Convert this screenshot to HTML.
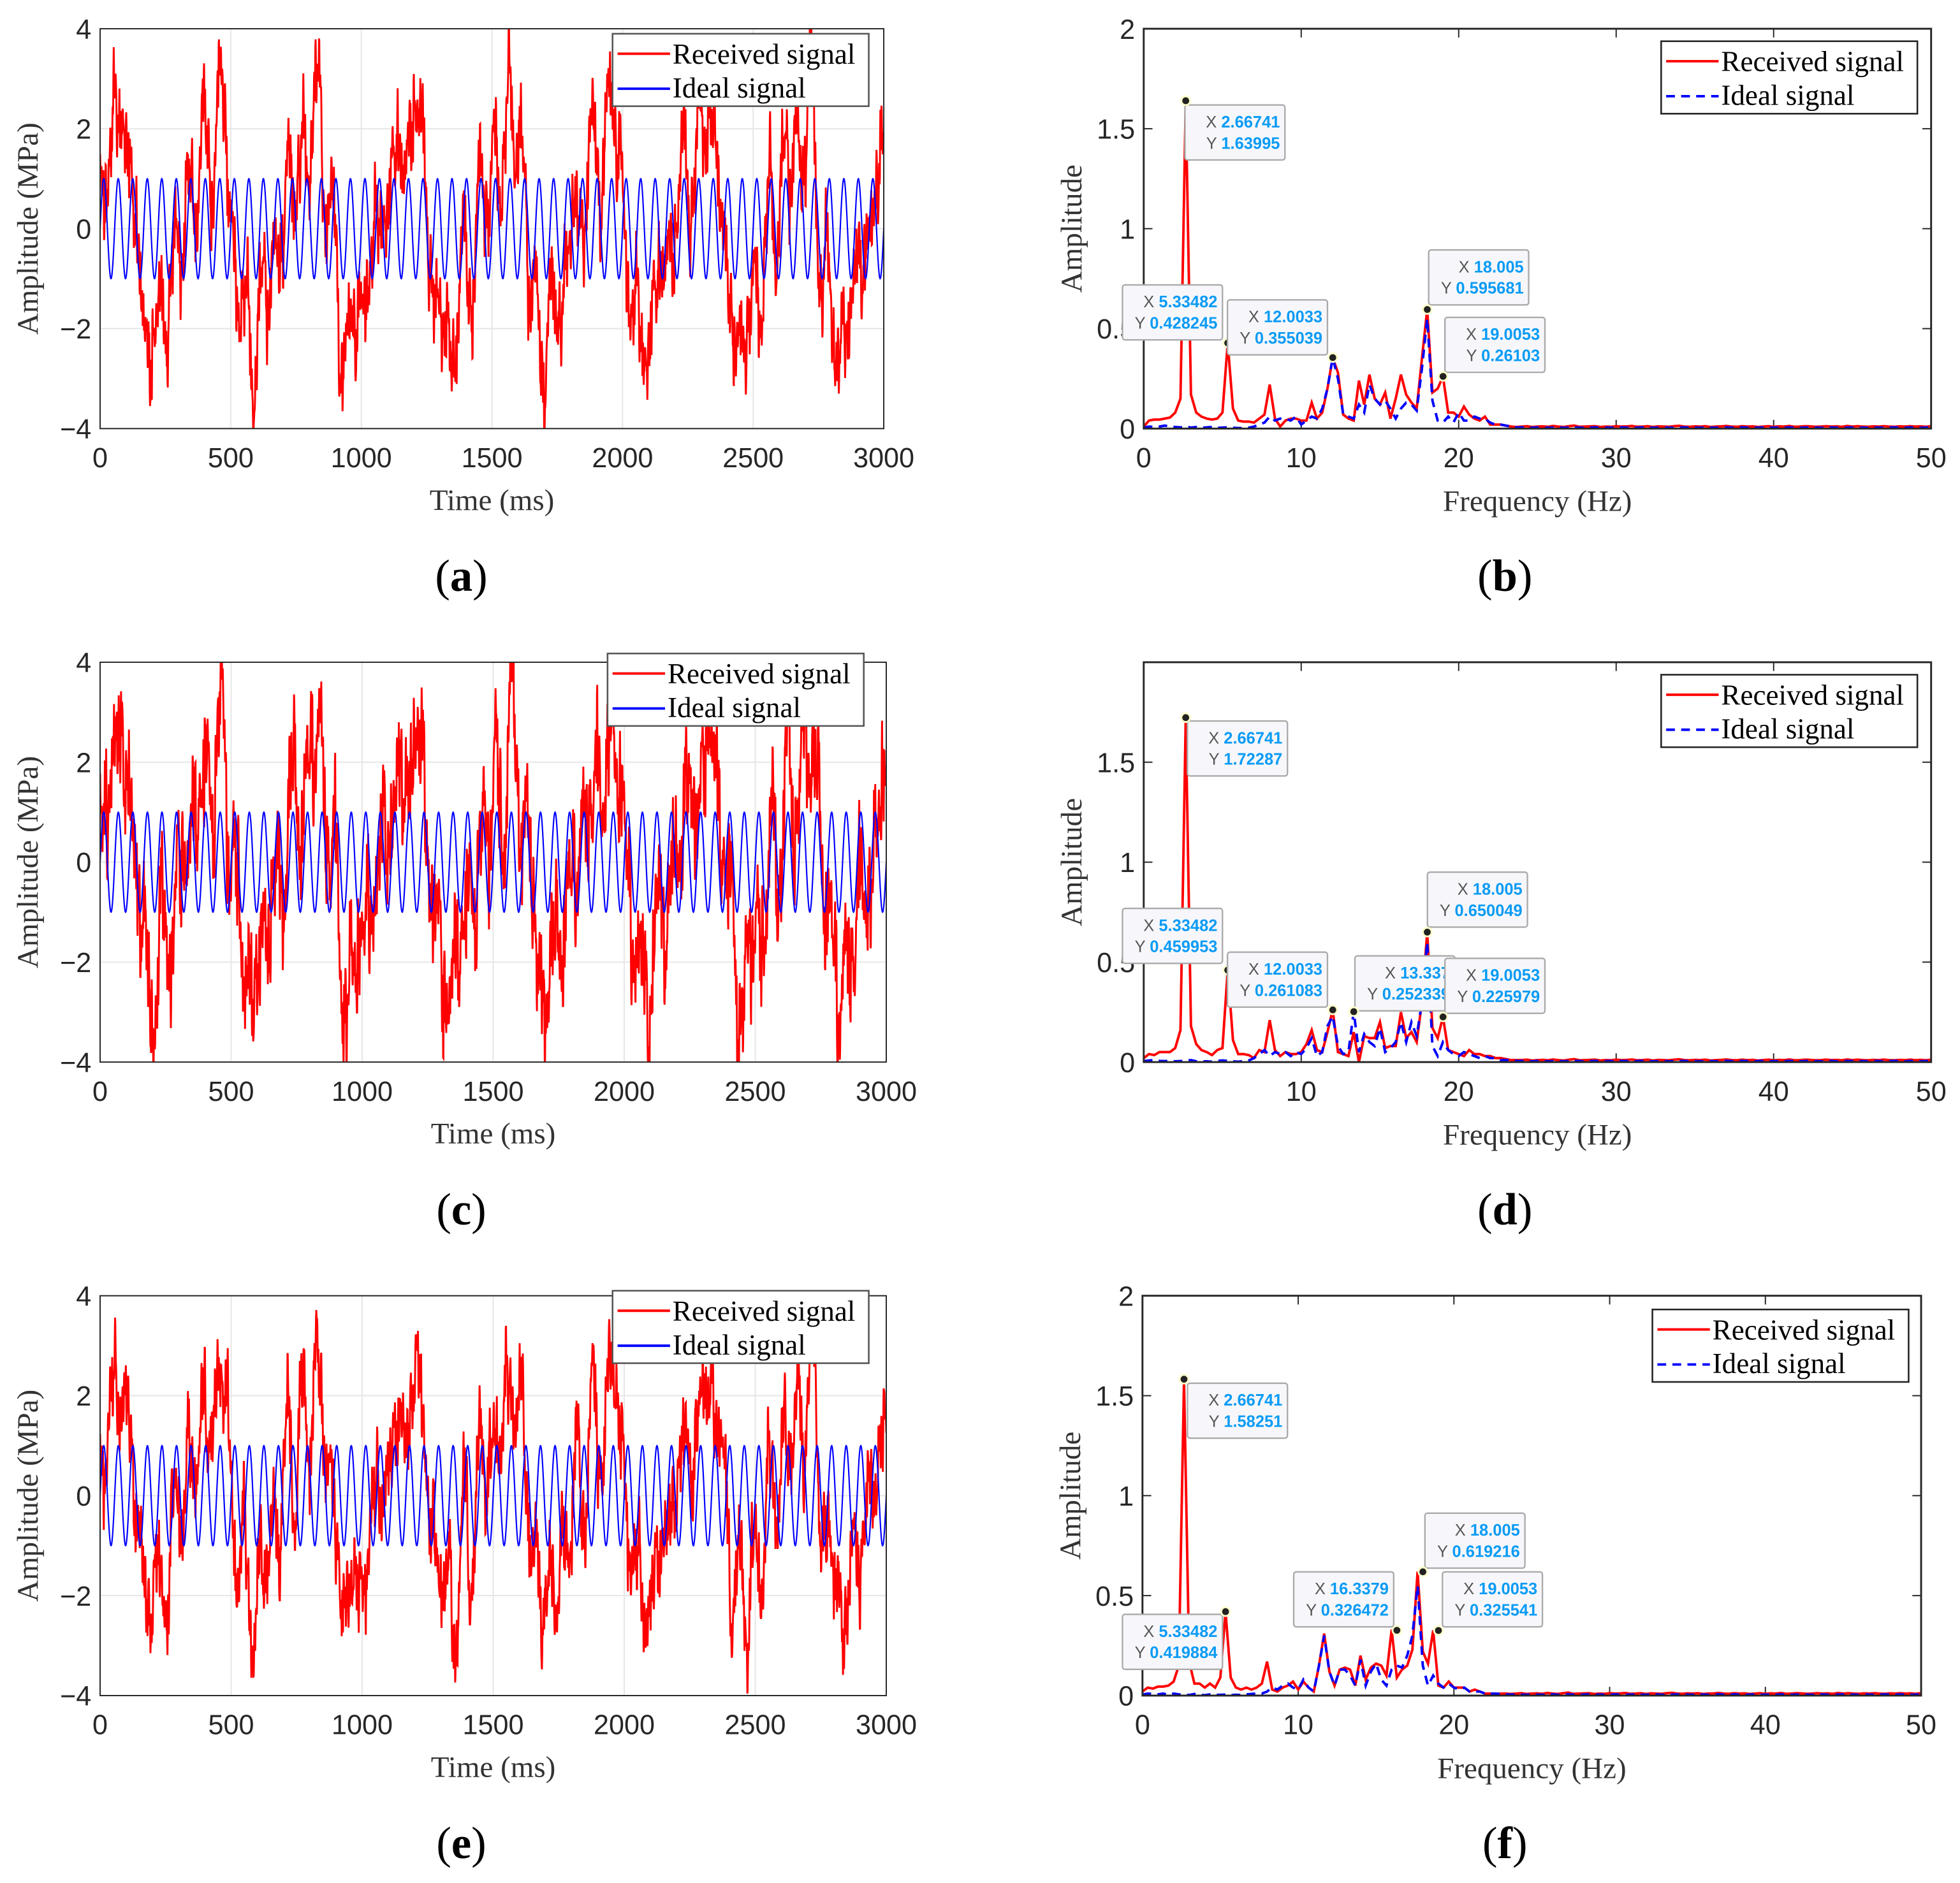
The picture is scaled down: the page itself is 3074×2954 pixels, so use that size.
<!DOCTYPE html>
<html><head><meta charset="utf-8"><style>
html,body{margin:0;padding:0;background:#fff}
svg{display:block}
.tk{font-family:"Liberation Sans",sans-serif;font-size:22px;fill:#262626}
.ax{font-family:"Liberation Serif",serif;font-size:24px;fill:#333}
.lg{font-family:"Liberation Serif",serif;font-size:23px;fill:#000}
.pl{font-family:"Liberation Serif",serif;font-size:36px;fill:#000}
.dt{font-family:"Liberation Sans",sans-serif;font-size:13px}
</style></head><body>
<svg id="fig" width="3074" height="2954" viewBox="0 0 1568 1507" xmlns="http://www.w3.org/2000/svg"></svg>
<script>
// ---- time-domain component data (frequency Hz, amplitude, phase rad) ----
const tFreq=[2.667,5.333,8,10.67,12,13.33,14.33,16.33,18,19,21,33,47,61,79,103,127,149,173,197,229,263];
const ampA=[2.0,0.6,0.25,0.15,0.4,0.15,0.3,0.3,0.6,0.3,0.12,0.22,0.2,0.2,0.19,0.18,0.17,0.16,0.15,0.15,0.14,0.14];
const ampC=[2.1,0.62,0.25,0.18,0.3,0.28,0.3,0.32,0.65,0.25,0.15,0.28,0.27,0.26,0.25,0.24,0.23,0.22,0.2,0.2,0.19,0.19];
const ampE=[1.9,0.55,0.22,0.15,0.35,0.15,0.3,0.35,0.62,0.33,0.12,0.22,0.2,0.2,0.19,0.18,0.17,0.16,0.15,0.15,0.14,0.14];
const phA=[-0.67,3.14,1.2,0.4,2.1,-1.3,0.8,2.6,-0.5,1.9,0.3,1.1,2.7,-2.0,0.9,-1.1,2.2,0.6,1.4,-2.6,0.2,2.9];
const phC=[-0.67,3.14,0.9,1.4,1.6,-0.3,2.8,1.6,-1.5,0.9,1.3,2.1,0.7,-1.0,1.9,-2.1,0.2,1.6,-0.4,2.3,-1.7,1.0];
const phE=[-0.67,3.14,1.7,0.1,2.6,-1.8,0.3,2.1,0.5,2.9,-0.7,0.1,1.7,-3.0,2.9,-0.1,1.2,2.6,0.8,-1.2,2.4,-0.6];
const idealFreq=18, idealAmp=1;
const timeTicks=[0,500,1000,1500,2000,2500,3000];
const ampTicks=[-4,-2,0,2,4];
// ---- spectrum data (bins at 1/3 Hz, 0..23.67 Hz) ----
const specRedB=[0.01,0.04,0.045,0.045,0.05,0.055,0.08,0.15,1.64,0.17,0.08,0.06,0.05,0.045,0.05,0.08,0.428,0.1,0.04,0.035,0.035,0.03,0.05,0.07,0.22,0.05,0.01,0.04,0.05,0.05,0.04,0.04,0.13,0.05,0.08,0.2,0.355,0.28,0.07,0.05,0.04,0.24,0.12,0.27,0.15,0.12,0.18,0.05,0.15,0.27,0.17,0.13,0.1,0.35,0.596,0.18,0.2,0.261,0.08,0.08,0.06,0.11,0.07,0.05,0.04,0.06,0.02,0.02,0.02,0.015,0.01,0.008];
const specBlueB=[0.005,0.01,0.008,0.01,0.015,0.01,0.008,0.006,0.01,0.005,0.008,0.004,0.006,0.008,0.004,0.005,0.006,0.004,0.003,0.002,0.004,0.01,0.02,0.03,0.06,0.04,0.05,0.05,0.04,0.06,0.02,0.04,0.06,0.05,0.1,0.2,0.355,0.25,0.07,0.06,0.05,0.12,0.08,0.22,0.15,0.12,0.14,0.1,0.05,0.1,0.13,0.12,0.09,0.3,0.55,0.14,0.04,0.03,0.06,0.03,0.08,0.04,0.04,0.06,0.05,0.05,0.03,0.02,0.02,0.015,0.01,0.006];
const specRedD=[0.02,0.04,0.035,0.05,0.05,0.05,0.07,0.16,1.72,0.18,0.09,0.06,0.05,0.035,0.06,0.07,0.46,0.11,0.04,0.04,0.035,0.02,0.06,0.05,0.21,0.06,0.03,0.05,0.04,0.04,0.05,0.09,0.16,0.06,0.05,0.15,0.261,0.05,0.04,0.03,0.15,0.0,0.13,0.12,0.12,0.2,0.07,0.08,0.08,0.25,0.12,0.15,0.1,0.3,0.65,0.17,0.12,0.226,0.06,0.05,0.04,0.03,0.06,0.04,0.04,0.03,0.03,0.02,0.02,0.015,0.01,0.01];
const specBlueD=[0.005,0.008,0.01,0.006,0.005,0.006,0.004,0.005,0.006,0.01,0.004,0.003,0.004,0.002,0.006,0.008,0.006,0.004,0.002,0.005,0.008,0.02,0.04,0.06,0.03,0.05,0.04,0.05,0.03,0.05,0.04,0.07,0.12,0.03,0.05,0.18,0.23,0.08,0.04,0.05,0.252,0.05,0.14,0.1,0.08,0.17,0.05,0.07,0.1,0.2,0.1,0.2,0.13,0.3,0.6,0.08,0.03,0.1,0.06,0.04,0.03,0.05,0.04,0.03,0.02,0.03,0.02,0.02,0.01,0.01,0.008,0.006];
const specRedF=[0.02,0.04,0.035,0.045,0.045,0.05,0.07,0.15,1.58,0.17,0.06,0.06,0.04,0.06,0.04,0.09,0.42,0.09,0.04,0.03,0.04,0.03,0.04,0.06,0.17,0.03,0.02,0.04,0.05,0.07,0.03,0.07,0.04,0.02,0.15,0.31,0.12,0.05,0.13,0.14,0.13,0.05,0.2,0.08,0.14,0.16,0.15,0.1,0.33,0.09,0.13,0.15,0.23,0.62,0.22,0.16,0.326,0.05,0.04,0.07,0.04,0.04,0.04,0.02,0.03,0.02,0.01,0.01,0.008,0.01,0.01,0.008];
const specBlueF=[0.005,0.01,0.008,0.006,0.01,0.004,0.01,0.006,0.004,0.003,0.008,0.004,0.002,0.006,0.003,0.004,0.005,0.002,0.004,0.003,0.006,0.008,0.01,0.01,0.02,0.04,0.03,0.05,0.06,0.04,0.03,0.08,0.04,0.02,0.15,0.3,0.12,0.05,0.13,0.13,0.1,0.05,0.18,0.05,0.12,0.16,0.08,0.05,0.13,0.15,0.14,0.2,0.3,0.55,0.15,0.05,0.1,0.06,0.04,0.06,0.04,0.03,0.04,0.02,0.02,0.02,0.01,0.01,0.01,0.008,0.006,0.005];
const tailRed=[0.01,0.012,0.008,0.01,0.011,0.009,0.013,0.01,0.008,0.012,0.015,0.009,0.01,0.011,0.012,0.008,0.01,0.009,0.012,0.01,0.011,0.013,0.009,0.01,0.012,0.008,0.011,0.01,0.009,0.012,0.014,0.01,0.009,0.011,0.01,0.012,0.008,0.01,0.011,0.013,0.01,0.009,0.012,0.01,0.011,0.008,0.01,0.012,0.009,0.011,0.01,0.013,0.009,0.01,0.012,0.011,0.009,0.01,0.012,0.01,0.011,0.009,0.013,0.01,0.012,0.01,0.009,0.011,0.01,0.012,0.01,0.009,0.011,0.01,0.012,0.01,0.011,0.009,0.012];
const tailBlue=[0.006,0.005,0.004,0.006,0.005,0.004,0.005,0.006,0.004,0.005,0.006,0.005,0.004,0.005,0.006,0.004,0.005,0.005,0.004,0.006,0.005,0.004,0.005,0.006,0.005,0.004,0.005,0.006,0.004,0.005,0.005,0.006,0.004,0.005,0.004,0.006,0.005,0.004,0.005,0.006,0.005,0.004,0.006,0.005,0.004,0.005,0.006,0.004,0.005,0.005,0.004,0.006,0.005,0.004,0.005,0.006,0.005,0.004,0.005,0.006,0.004,0.005,0.005,0.006,0.004,0.005,0.004,0.006,0.005,0.004,0.005,0.006,0.005,0.004,0.006,0.005,0.004,0.005,0.006];
const freqTicks=[0,10,20,30,40,50];
const specTicks=[0,0.5,1,1.5,2];
const tipsB=[[2.66741,1.63995,948,84],[5.33482,0.428245,898,228],[12.0033,0.355039,982,240],[18.005,0.595681,1143,200],[19.0053,0.26103,1156,254]];
const tipsD=[[2.66741,1.72287,950,577],[5.33482,0.459953,898,727],[12.0033,0.261083,982,762],[13.337,0.252339,1084,765],[18.005,0.650049,1142,698],[19.0053,0.225979,1156,767]];
const tipsF=[[2.66741,1.58251,950,1107],[5.33482,0.419884,898,1292],[16.3379,0.326472,1035,1258],[18.005,0.619216,1140,1211],[19.0053,0.325541,1154,1258]];

const NS="http://www.w3.org/2000/svg";
const svg=document.getElementById('fig');
function mk(tag,attrs,parent){const e=document.createElementNS(NS,tag);for(const k in attrs)e.setAttribute(k,attrs[k]);(parent||svg).appendChild(e);return e;}
let clipN=0;
function axesBase(g,x0,y0,x1,y1){
  mk('rect',{x:x0,y:y0,width:x1-x0,height:y1-y0,fill:'#fff',stroke:'none'},g);
}
function timePanel(P){
  const g=mk('g',{});
  
  
  const {x0,y0,x1,y1}=P;
  const sx=t=>x0+t/3000*(x1-x0), sy=v=>y0+(4-v)/8*(y1-y0);
  axesBase(g,x0,y0,x1,y1);
  timeTicks.forEach(t=>{mk('line',{x1:sx(t),x2:sx(t),y1:y0,y2:y1,stroke:'#e6e6e6','stroke-width':1},g);
    const tx=mk('text',{x:sx(t),y:y1+31,'text-anchor':'middle',class:'tk'},g);tx.textContent=t;
    });
  ampTicks.forEach(v=>{mk('line',{x1:x0,x2:x1,y1:sy(v),y2:sy(v),stroke:'#e6e6e6','stroke-width':1},g);
    const tx=mk('text',{x:x0-7,y:sy(v)+8,'text-anchor':'end',class:'tk'},g);tx.textContent=(v<0?'\u2212'+(-v):v);
    });
  const id='c'+(clipN++);const cp=mk('clipPath',{id},g);mk('rect',{x:x0,y:y0,width:x1-x0,height:y1-y0},cp);
  let pr='',pb='';
  for(let t=0;t<=3000;t++){const s=t/1000;let v=0;
    for(let i=0;i<tFreq.length;i++)v+=P.amp[i]*Math.cos(2*Math.PI*tFreq[i]*s+P.ph[i]);
    pr+=(t?'L':'M')+sx(t).toFixed(2)+' '+sy(v).toFixed(2);
    const b=idealAmp*Math.sin(2*Math.PI*idealFreq*s);
    pb+=(t?'L':'M')+sx(t).toFixed(2)+' '+sy(b).toFixed(2);}
  const r=mk('path',{d:pr,fill:'none',stroke:'#ff0000','stroke-width':1.5,'clip-path':`url(#${id})`},g);
  
  const b=mk('path',{d:pb,fill:'none',stroke:'#0000ff','stroke-width':1.1,'clip-path':`url(#${id})`},g);
  
  mk('rect',{x:x0,y:y0,width:x1-x0,height:y1-y0,fill:'none',stroke:'#262626','stroke-width':1},g);
  const yl=mk('text',{x:0,y:0,'text-anchor':'middle',class:'ax',transform:`translate(${x0-50},${(y0+y1)/2}) rotate(-90)`},g);
  yl.textContent='Amplitude (MPa)';
  const xl=mk('text',{x:(x0+x1)/2,y:y1+65,'text-anchor':'middle',class:'ax'},g);
  xl.textContent='Time (ms)';
  legend(g,P.lx,P.ly,false,'#555');
  panelLabel(P.lab,369,P.laby);
}
function legend(g,lx,ly,dash,bc){
  const lg=mk('g',{},g);
  
  mk('rect',{x:lx,y:ly,width:205,height:58,fill:'#fff',stroke:bc,'stroke-width':1.3},lg);
  mk('line',{x1:lx+4,x2:lx+46,y1:ly+16,y2:ly+16,stroke:'#ff0000','stroke-width':2},lg);
  mk('line',{x1:lx+4,x2:lx+46,y1:ly+44,y2:ly+44,stroke:'#0000ff','stroke-width':2,'stroke-dasharray':dash?'7 5':'none'},lg);
  const t1=mk('text',{x:lx+48,y:ly+24,class:'lg'},lg);t1.textContent='Received signal';
  
  const t2=mk('text',{x:lx+48,y:ly+51,class:'lg'},lg);t2.textContent='Ideal signal';
  
}
function panelLabel(l,x,y){
  const t=mk('text',{x,y,'text-anchor':'middle',class:'pl'});
  t.innerHTML='(<tspan font-weight="bold">'+l+'</tspan>)';
  
}
function specPanel(P){
  const g=mk('g',{});
  
  const {x0,y0,x1,y1}=P;
  const sx=f=>x0+f/50*(x1-x0), sy=v=>y1-v/2*(y1-y0);
  axesBase(g,x0,y0,x1,y1);
  freqTicks.forEach(f=>{mk('line',{x1:sx(f),x2:sx(f),y1:y1,y2:y1-7,stroke:'#262626'},g);mk('line',{x1:sx(f),x2:sx(f),y1:y0,y2:y0+7,stroke:'#262626'},g);
    if(P.skip0&&f===0)return;
    const tx=mk('text',{x:sx(f),y:y1+31,'text-anchor':'middle',class:'tk'},g);tx.textContent=f;
    });
  specTicks.forEach(v=>{mk('line',{x1:x0,x2:x0+7,y1:sy(v),y2:sy(v),stroke:'#262626'},g);mk('line',{x1:x1,x2:x1-7,y1:sy(v),y2:sy(v),stroke:'#262626'},g);
    if(P.skip2&&v===2)return;
    const tx=mk('text',{x:x0-7,y:sy(v)+8,'text-anchor':'end',class:'tk'},g);tx.textContent=v;
    });
  const red=P.red.concat(tailRed), blue=P.blue.concat(tailBlue);
  const path=arr=>arr.map((v,k)=>(k?'L':'M')+sx(k/3).toFixed(2)+' '+sy(v).toFixed(2)).join('');
  const r=mk('path',{d:path(red),fill:'none',stroke:'#ff0000','stroke-width':2},g);
  
  const b=mk('path',{d:path(blue),fill:'none',stroke:'#0000ff','stroke-width':2,'stroke-dasharray':'7 5'},g);
  
  mk('rect',{x:x0,y:y0,width:x1-x0,height:y1-y0,fill:'none',stroke:'#262626','stroke-width':1.5},g);
  const yl=mk('text',{x:0,y:0,'text-anchor':'middle',class:'ax',transform:`translate(${x0-50},${(y0+y1)/2}) rotate(-90)`},g);
  yl.textContent='Amplitude';
  const xl=mk('text',{x:(x0+x1)/2,y:y1+66,'text-anchor':'middle',class:'ax'},g);
  xl.textContent='Frequency (Hz)';
  P.tips.forEach(tp=>{
    const [fx,fy,bx,by]=tp;
    const tg=mk('g',{},g);
    
    mk('rect',{x:bx,y:by,width:80,height:44,rx:2,fill:'#f7f7fb',stroke:'#aaa','stroke-width':1.2},tg);
    const t1=mk('text',{x:bx+76,y:by+18,'text-anchor':'end',class:'dt'},tg);
    t1.innerHTML='<tspan fill="#555">X </tspan><tspan fill="#0a9bf5" font-weight="bold">'+fx+'</tspan>';
    const t2=mk('text',{x:bx+76,y:by+35,'text-anchor':'end',class:'dt'},tg);
    t2.innerHTML='<tspan fill="#555">Y </tspan><tspan fill="#0a9bf5" font-weight="bold">'+fy+'</tspan>';
    mk('circle',{cx:sx(fx),cy:sy(fy),r:3.5,fill:'#222',stroke:'#ffffcc','stroke-width':1.5},tg);
  });
  legend(g,P.lx,P.ly,true,'#222');
  panelLabel(P.lab,1204,P.laby);
}
timePanel({name:'panel-a-time',x0:80,y0:23,x1:707,y1:343,amp:ampA,ph:phA,lx:490,ly:27,lab:'a',laby:473});
timePanel({name:'panel-c-time',x0:80,y0:530,x1:709,y1:850,amp:ampC,ph:phC,lx:486,ly:523,lab:'c',laby:980});
timePanel({name:'panel-e-time',x0:80,y0:1037,x1:709,y1:1357,amp:ampE,ph:phE,lx:490,ly:1033,lab:'e',laby:1487});
specPanel({name:'panel-b-spectrum',x0:915,y0:23,x1:1545,y1:343,red:specRedB,blue:specBlueB,tips:tipsB,lx:1329,ly:33,lab:'b',laby:473});
specPanel({name:'panel-d-spectrum',x0:915,y0:530,x1:1545,y1:850,red:specRedD,blue:specBlueD,tips:tipsD,lx:1329,ly:540,lab:'d',laby:980,skip0:true,skip2:true});
specPanel({name:'panel-f-spectrum',x0:914,y0:1037,x1:1537,y1:1357,red:specRedF,blue:specBlueF,tips:tipsF,lx:1322,ly:1048,lab:'f',laby:1487});
</script>
</body></html>
